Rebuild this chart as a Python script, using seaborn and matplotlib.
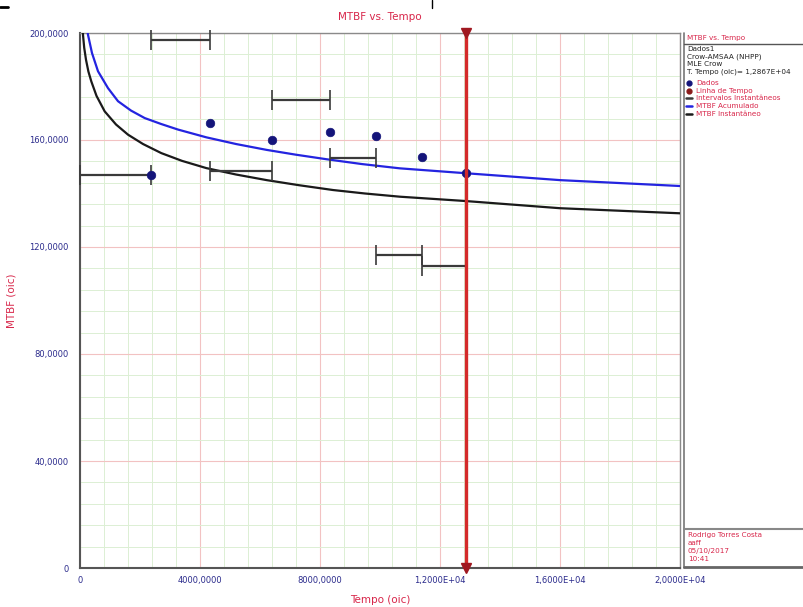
#MTBF vs. Tempo - Crow-AMSAA (NHPP) plot recreated with seaborn + matplotlib
import matplotlib
matplotlib.use("Agg")
import matplotlib.pyplot as plt
from matplotlib.ticker import MultipleLocator
from matplotlib.lines import Line2D
import seaborn as sns
import pandas as pd

#Data
dados_t = [2356, 4333, 6390, 8333, 9867, 11390, 12867]
dados_mtbf = [147.0, 166.5, 160.0, 163.1, 161.5, 153.8, 147.5]

int_start = [0, 2356, 4333, 6390, 8333, 9867, 11390]
int_end = [2356, 4333, 6390, 8333, 9867, 11390, 12867]
int_mtbf = [147.0, 197.2, 148.3, 175.0, 153.2, 117.0, 113.0]

acum_t = [200, 267, 400, 600, 933, 1267, 1700, 2157, 2700, 3267, 4210, 5200,
          6223, 7200, 8223, 9400, 10667, 12833, 16000, 20000]
acum_mtbf = [204.0, 199.3, 192.5, 185.7, 179.4, 174.5, 171.0, 168.2, 166.0, 163.9, 161.0, 158.5,
             156.3, 154.5, 152.8, 151.0, 149.4, 147.6, 145.0, 142.8]

inst_t = [60, 100, 140, 200, 280, 377, 550, 823, 1200, 1600, 2100, 2710, 3400, 4210,
          5200, 6223, 7300, 8433, 9500, 10667, 12833, 16000, 20000]
inst_mtbf = [210.0, 199.3, 194.5, 190.0, 185.6, 181.9, 176.5, 170.7, 165.8, 162.0, 158.5, 155.1, 152.2, 149.5,
             147.1, 145.0, 143.1, 141.3, 140.0, 138.8, 137.2, 134.5, 132.6]

tempo_linha = 12867

x_ticks = [0, 4000, 8000, 12000, 16000, 20000]
x_tick_labels = ["0", "4000,0000", "8000,0000", "1,2000E+04", "1,6000E+04", "2,0000E+04"]
y_ticks = [0, 40, 80, 120, 160, 200]
y_tick_labels = ["0", "40,0000", "80,0000", "120,0000", "160,0000", "200,0000"]

info_lines = ["Dados1", "Crow-AMSAA (NHPP)", "MLE Crow", "T. Tempo (oic)= 1,2867E+04"]
legend_names = ["Dados", "Linha de Tempo", "Intervalos Instantâneos", "MTBF Acumulado", "MTBF Instantâneo"]
footer_lines = ["Rodrigo Torres Costa", "aaff", "05/10/2017", "10:41"]

df_acum = pd.DataFrame({"t": acum_t, "mtbf": acum_mtbf})
df_inst = pd.DataFrame({"t": inst_t, "mtbf": inst_mtbf})
df_dados = pd.DataFrame({"t": dados_t, "mtbf": dados_mtbf})

sns.set_theme(style="white")
plt.rcParams["font.family"] = ["DejaVu Sans"]

RED = "#d8264a"
NAVY = "#2b2b8c"

fig = plt.figure(figsize=(8.04, 6.07), dpi=100)
fig.patch.set_facecolor("white")
ax = fig.add_axes([80 / 804, 1 - 568 / 607, 600 / 804, 535 / 607])
ax.set_facecolor("white")

#grid
ax.xaxis.set_minor_locator(MultipleLocator(800))
ax.yaxis.set_minor_locator(MultipleLocator(8))
ax.grid(which="major", color="#f2c2c2", lw=0.8, zorder=0)
ax.grid(which="minor", color="#dcefd4", lw=0.7, zorder=0)
ax.set_axisbelow(True)

#curves
sns.lineplot(data=df_inst, x="t", y="mtbf", color="#1a1a1a", lw=1.6, ax=ax, zorder=3)
sns.lineplot(data=df_acum, x="t", y="mtbf", color="#2424e0", lw=1.6, ax=ax, zorder=3)

#intervals
for s, e, m in zip(int_start, int_end, int_mtbf):
    ax.errorbar((s + e) / 2, m, xerr=(e - s) / 2, fmt="none", ecolor="#3a3a3a",
                elinewidth=1.6, capsize=7, capthick=1.2, zorder=4, clip_on=False)

#points
sns.scatterplot(data=df_dados, x="t", y="mtbf", color="#14147a", s=38,
                edgecolor="#14147a", ax=ax, zorder=5)

#time line
ax.axvline(tempo_linha, color="#d42a2a", lw=2.4, zorder=6)
ax.plot([tempo_linha, tempo_linha], [200, 0], linestyle="none", marker="v",
        markersize=7, color="#a01820", clip_on=False, zorder=7)

ax.set_xlim(0, 20000)
ax.set_ylim(0, 200)
ax.set_xticks(x_ticks)
ax.set_xticklabels(x_tick_labels)
ax.set_yticks(y_ticks)
ax.set_yticklabels(y_tick_labels)
ax.tick_params(axis="both", which="major", labelsize=6, labelcolor=NAVY,
               length=3, color="#777777", direction="out")
ax.tick_params(axis="both", which="minor", length=0)
ax.tick_params(axis="x", pad=3)
ax.tick_params(axis="y", pad=5)

for side in ["left", "bottom"]:
    ax.spines[side].set_color("#555555")
    ax.spines[side].set_linewidth(1.5)
for side in ["top", "right"]:
    ax.spines[side].set_color("#8a8a8a")
    ax.spines[side].set_linewidth(1.0)

ax.set_title("MTBF vs. Tempo", color=RED, fontsize=7.5, pad=9)
ax.set_xlabel("Tempo (oic)", color=RED, fontsize=7.5)
ax.set_ylabel("MTBF (oic)", color=RED, fontsize=7.5)
ax.xaxis.set_label_coords(0.5, -(595 - 568) / 535)
ax.yaxis.set_label_coords(-(80 - 17) / 600, 0.5)

#right-side info panel, drawn in pixel coordinates
pan = fig.add_axes([683 / 804, 0, 121 / 804, 1])
pan.set_xlim(0, 121)
pan.set_ylim(607, 0)
pan.axis("off")
pan.plot([1, 1], [33, 568], color="#777777", lw=1.2)
pan.text(4, 38, "MTBF vs. Tempo", color=RED, fontsize=5.2, va="center")
pan.plot([1, 121], [44, 44], color="#555555", lw=1.0)
for i, txt in enumerate(info_lines):
    pan.text(4, 49 + i * 7.5, txt, color="#222222", fontsize=5.2, va="center")

leg_y = [83 + i * 7.7 for i in range(len(legend_names))]
pan.plot(6, leg_y[0], marker="o", markersize=3.5, color="#14147a")
pan.plot(6, leg_y[1], marker="o", markersize=3.5, color="#8a1a1a")
pan.plot([3, 9], [leg_y[2]] * 2, color="#3a3a3a", lw=1.8)
pan.plot([3, 9], [leg_y[3]] * 2, color="#2424e0", lw=1.8)
pan.plot([3, 9], [leg_y[4]] * 2, color="#1a1a1a", lw=1.8)
for y, name in zip(leg_y, legend_names):
    pan.text(13, y, name, color=RED, fontsize=5.2, va="center")

pan.plot([1, 121], [529, 529], color="#888888", lw=1.5)
pan.plot([1, 121], [567, 567], color="#666666", lw=2.0)
for i, txt in enumerate(footer_lines):
    pan.text(5, 535 + i * 8, txt, color=RED, fontsize=5.2, va="center")

#small marks at the top edge of the picture
fig.add_artist(Line2D([0, 8 / 804], [1 - 7 / 607] * 2, color="black", lw=2))
fig.add_artist(Line2D([432 / 804] * 2, [1, 1 - 8 / 607], color="black", lw=1))

fig.savefig("out.png", dpi=100)
